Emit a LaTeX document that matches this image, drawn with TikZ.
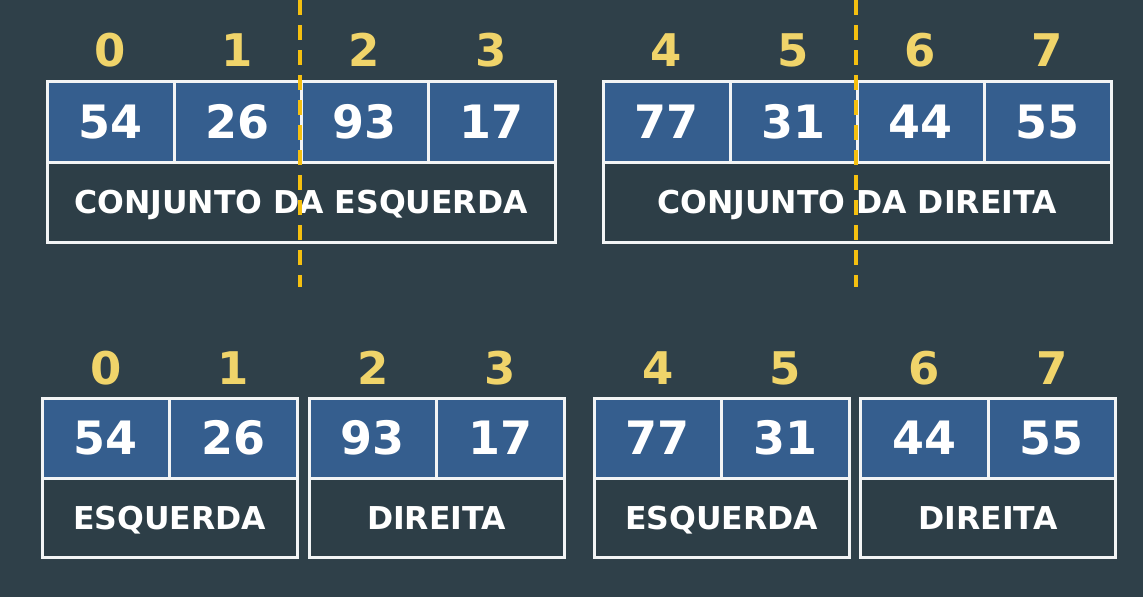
\documentclass[tikz,border=0pt]{standalone}
\usepackage{fontspec}
\setmainfont{DejaVu Sans}
\definecolor{bgc}{HTML}{2F4049}
\definecolor{cellblue}{HTML}{355E8E}
\definecolor{labelbg}{HTML}{2D3E47}
\definecolor{idxc}{HTML}{F0D46A}
\definecolor{dashc}{HTML}{F5C010}
\definecolor{linec}{HTML}{F2F4F5}
\tikzset{
  numcell/.style={draw=linec, line width=3pt, fill=cellblue, inner sep=0pt, text=white,
    font=\bfseries\fontsize{46}{46}\selectfont, text height=33.6pt, text depth=0pt},
  labcell/.style={draw=linec, line width=3pt, fill=labelbg, inner sep=0pt, text=white,
    font=\bfseries\fontsize{31.5}{31.5}\selectfont, text height=23pt, text depth=0pt},
  idx/.style={text=idxc, inner sep=0pt, font=\bfseries\fontsize{45}{45}\selectfont,
    text height=32.8pt, text depth=0pt},
  split/.style={draw=dashc, line width=3.3pt, dash pattern=on 15pt off 10pt}
}
\begin{document}
\begin{tikzpicture}[x=1pt,y=-1pt]
\fill[bgc] (0,0) rectangle (1143,597);
\useasboundingbox (0,0) rectangle (1143,597);
% top groups
\node[labcell, minimum width=508pt, minimum height=80pt] (tl) at (301,202) {CONJUNTO DA ESQUERDA};
\node[labcell, minimum width=508pt, minimum height=80pt] (tr) at (857,202) {CONJUNTO DA DIREITA};
\foreach \v/\x [count=\i from 0] in {54/110.5,26/237.5,93/364.5,17/491.5,77/666.5,31/793.5,44/920.5,55/1047.5}{
  \node[numcell, minimum width=127pt, minimum height=81pt] (t\i) at (\x,122) {\v};
  \node[idx] (ti\i) at (\x,50) {\i};
}
% bottom groups
\node[labcell, minimum width=255pt, minimum height=79pt] (b1) at (169.5,517.5) {ESQUERDA};
\node[labcell, minimum width=255pt, minimum height=79pt] (b2) at (436.5,517.5) {DIREITA};
\node[labcell, minimum width=255pt, minimum height=79pt] (b3) at (721.5,517.5) {ESQUERDA};
\node[labcell, minimum width=255pt, minimum height=79pt] (b4) at (988,517.5) {DIREITA};
\foreach \v/\x [count=\i from 0] in {54/105.75,26/233.25,93/372.75,17/500.25,77/657.75,31/785.25,44/924.25,55/1051.75}{
  \node[numcell, minimum width=127.5pt, minimum height=80pt] (b\i c) at (\x,438) {\v};
  \node[idx] (bi\i) at (\x,368) {\i};
}
% dashed split lines
\coordinate (d1a) at (300,0);
\coordinate (d1b) at (300,287);
\coordinate (d2a) at (856,0);
\coordinate (d2b) at (856,287);
\draw[split] (d1a) -- (d1b);
\draw[split] (d2a) -- (d2b);
\end{tikzpicture}
\end{document}
